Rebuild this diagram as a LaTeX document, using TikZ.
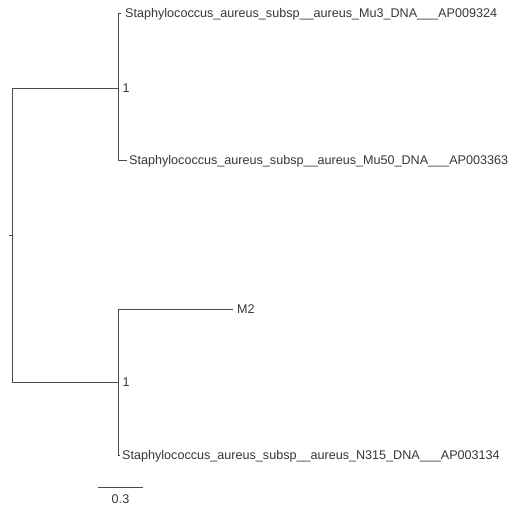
\documentclass[tikz,border=0pt]{standalone}
\usepackage{fontspec}
\setmainfont{Liberation Sans}
\definecolor{linegray}{HTML}{4A4A4A}
\definecolor{textgray}{HTML}{363636}
\begin{document}
\begin{tikzpicture}[x=1pt,y=-1pt,
  branch/.style={draw=linegray, line width=1pt},
  lbl/.style={anchor=base west, inner sep=0pt, text=textgray, font=\fontsize{12.6}{15}\selectfont},
  scalelbl/.style={anchor=base, inner sep=0pt, text=textgray, font=\fontsize{12.6}{15}\selectfont}]
\useasboundingbox (0,0) rectangle (512,506);
% internal nodes
\coordinate (root) at (12.5,235.5);
\coordinate (rtick) at (8.5,235.5);
\coordinate (n1) at (118.5,88.5);
\coordinate (n2) at (118.5,382.5);
% leaf ends
\coordinate (l1) at (121,13.5);
\coordinate (l2) at (127,160.5);
\coordinate (l3) at (233,309.5);
\coordinate (l4) at (119,455.5);
% scale bar ends
\coordinate (s1) at (98,487.5);
\coordinate (s2) at (143,487.5);
% branches
\draw[branch] (l1) -| (n1) |- (l2);
\draw[branch] (l3) -| (n2) |- (l4);
\draw[branch] (n1) -| (root) |- (n2);
\draw[branch] (root) -- (rtick);
\draw[branch] (s1) -- (s2);
% labels
\node[lbl] (t1) at (125,17.5) {Staphylococcus\_aureus\_subsp\_\_aureus\_Mu3\_DNA\_\_\_AP009324};
\node[lbl] (t2) at (129,164.5) {Staphylococcus\_aureus\_subsp\_\_aureus\_Mu50\_DNA\_\_\_AP003363};
\node[lbl] (t3) at (237,313.5) {M2};
\node[lbl] (t4) at (122,459.5) {Staphylococcus\_aureus\_subsp\_\_aureus\_N315\_DNA\_\_\_AP003134};
\node[lbl] (b1) at (122.5,92.5) {1};
\node[lbl] (b2) at (122.5,386.5) {1};
\node[scalelbl] (sc) at (120.5,503) {0.3};
\end{tikzpicture}
\end{document}
